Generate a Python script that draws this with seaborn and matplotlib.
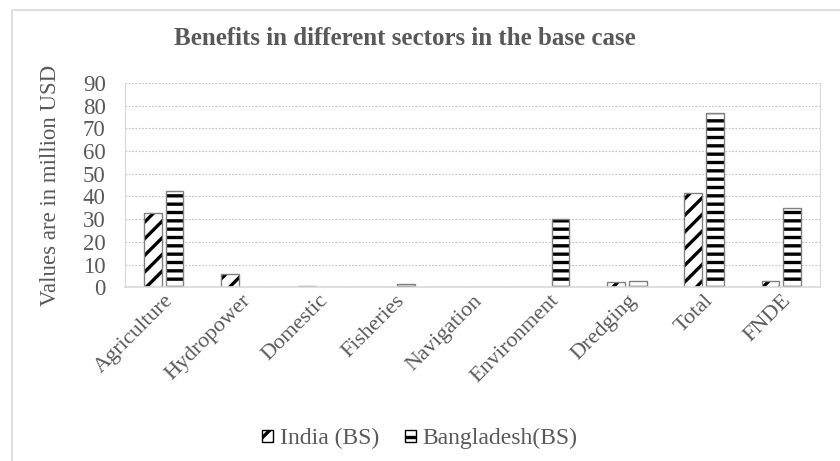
"""Benefits in different sectors in the base case."""

import matplotlib

matplotlib.use("Agg")
import matplotlib.pyplot as plt
import pandas as pd
import seaborn as sns
from matplotlib.patches import Patch, Rectangle

SECTORS = [
    "Agriculture",
    "Hydropower",
    "Domestic",
    "Fisheries",
    "Navigation",
    "Environment",
    "Dredging",
    "Total",
    "FNDE",
]
INDIA = [32.6, 5.8, 0.5, 0.0, 0.0, 0.0, 2.2, 41.4, 2.6]
BANGLADESH = [42.3, 0.0, 0.0, 1.3, 0.0, 30.0, 2.6, 76.8, 34.8]
SERIES = ["India (BS)", "Bangladesh(BS)"]
HATCHES = ["//", "--"]

GREY = "#595959"


def main():
    sns.set_style("white")
    plt.rcParams["font.family"] = ["Liberation Serif", "DejaVu Serif"]
    plt.rcParams["hatch.linewidth"] = 2.4

    df = pd.DataFrame(
        {
            "sector": SECTORS * 2,
            "value": INDIA + BANGLADESH,
            "series": [SERIES[0]] * len(SECTORS) + [SERIES[1]] * len(SECTORS),
        }
    )

    fig = plt.figure(figsize=(8.4, 4.61), dpi=100)
    ax = fig.add_axes([0.149, 0.377, 0.827, 0.443])

    sns.barplot(
        data=df,
        x="sector",
        y="value",
        hue="series",
        order=SECTORS,
        hue_order=SERIES,
        palette=["white", "white"],
        width=0.56,
        gap=0.18,
        edgecolor="black",
        linewidth=0,
        legend=False,
        ax=ax,
    )
    n = len(SECTORS)
    for i, bar in enumerate(list(ax.patches[: 2 * n])):
        bar.set_hatch(HATCHES[i // n])
        if bar.get_height() > 0:
            # grey outline over the black hatch
            ax.add_patch(
                Rectangle(
                    bar.get_xy(),
                    bar.get_width(),
                    bar.get_height(),
                    fill=False,
                    edgecolor="#808080",
                    linewidth=1.0,
                    zorder=bar.get_zorder() + 0.1,
                )
            )

    ax.set_ylim(0, 90)
    ax.set_yticks(range(0, 91, 10))
    ax.yaxis.grid(True, linestyle=(0, (1.5, 1.5)), color="#bfbfbf", linewidth=0.8)
    ax.set_axisbelow(True)
    for side in ["left", "right"]:
        ax.spines[side].set_color("#d9d9d9")
        ax.spines[side].set_linewidth(0.8)
    ax.spines["top"].set_visible(False)
    ax.spines["bottom"].set_color("#d9d9d9")
    ax.spines["bottom"].set_linewidth(1.2)

    ax.tick_params(axis="y", labelsize=16.5, labelcolor=GREY, length=0, pad=14)
    ax.tick_params(axis="x", labelsize=16, labelcolor=GREY, length=0, pad=3)
    plt.setp(ax.get_xticklabels(), rotation=45, ha="right", rotation_mode="anchor")
    ax.set_xlabel("")
    ax.set_ylabel("Values are in million USD", fontsize=16.5, color=GREY, labelpad=16)

    fig.text(
        0.482,
        0.917,
        "Benefits in different sectors in the base case",
        ha="center",
        va="center",
        fontsize=18,
        fontweight="bold",
        color=GREY,
    )

    handles = [
        Patch(facecolor="white", edgecolor="black", hatch=HATCHES[0], label=SERIES[0]),
        Patch(facecolor="white", edgecolor="black", hatch=HATCHES[1], label=SERIES[1]),
    ]
    leg = fig.legend(
        handles=handles,
        loc="center",
        bbox_to_anchor=(0.5, 0.048),
        ncol=2,
        frameon=False,
        fontsize=17,
        handlelength=0.45,
        handleheight=0.45,
        handletextpad=0.3,
        columnspacing=1.1,
    )
    for t in leg.get_texts():
        t.set_color(GREY)

    # outer chart border (partly cropped in the original)
    fig.patches.append(
        Rectangle(
            (12 / 840, -0.1),
            1.2,
            1 - 10 / 461 + 0.1,
            transform=fig.transFigure,
            fill=False,
            edgecolor="#d9d9d9",
            linewidth=1.2,
        )
    )

    fig.savefig("out.png", dpi=100)


if __name__ == "__main__":
    main()
